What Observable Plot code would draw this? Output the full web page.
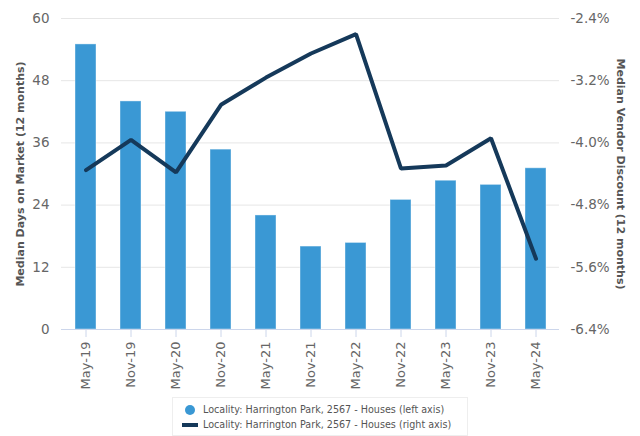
<!DOCTYPE html>
<html><head><meta charset="utf-8">
<script src="https://cdn.jsdelivr.net/npm/d3@7"></script>
<script src="https://cdn.jsdelivr.net/npm/@observablehq/plot@0.6"></script>
<style>
body{margin:0;background:#fff;font-family:"DejaVu Sans",sans-serif;}
#chart{width:640px;height:390px;}
.legend{position:absolute;left:172px;top:397px;width:296px;height:39px;border:1px solid #eeeeee;box-sizing:border-box;font-family:"DejaVu Sans",sans-serif;font-size:9.6px;color:#555;padding:4px 0 0 9px;white-space:nowrap;}
.legend div{height:15px;line-height:15px;display:flex;align-items:center;}
.legend svg{margin-right:5px;flex:none;}
</style></head><body>
<div id="chart"></div>
<div class="legend" id="legend"></div>
<script>
const periods = ["May-19","Nov-19","May-20","Nov-20","May-21","Nov-21","May-22","Nov-22","May-23","Nov-23","May-24"];
const daysOnMarket = [55, 44, 42, 34.7, 22, 16, 16.7, 25, 28.7, 27.9, 31.1];
const vendorDiscount = [-4.35, -3.96, -4.38, -3.51, -3.16, -2.85, -2.60, -4.33, -4.29, -3.94, -5.49];
const leftTicks = [0, 12, 24, 36, 48, 60];
const rightTicks = [-6.4, -5.6, -4.8, -4.0, -3.2, -2.4];
const seriesName = "Locality: Harrington Park, 2567 - Houses";
const leftTitle = "Median Days on Market (12 months)";
const rightTitle = "Median Vendor Discount (12 months)";

const barColor = "#3a98d4";
const lineColor = "#15395a";

const toLeft = d3.scaleLinear([-6.4, -2.4], [0, 60]);
const bars = periods.map((p, i) => ({period: p, value: daysOnMarket[i]}));
const line = periods.map((p, i) => ({period: p, value: toLeft(vendorDiscount[i])}));

const chart = Plot.plot({
  width: 640,
  height: 390,
  marginLeft: 61,
  marginRight: 81,
  marginTop: 18,
  marginBottom: 61,
  style: {fontFamily: "DejaVu Sans, sans-serif", color: "#666", background: "#fff"},
  x: {type: "band", domain: periods, paddingInner: 0.54, paddingOuter: 0.27, label: null},
  y: {domain: [0, 60], label: null},
  marks: [
    Plot.gridY(leftTicks, {stroke: "#e6e6e6", strokeOpacity: 1}),
    Plot.barY(bars, {x: "period", y: "value", fill: barColor, stroke: "#ffffff", strokeOpacity: 0.4, strokeWidth: 1}),
    Plot.ruleY([0], {stroke: "#ccd6eb", strokeWidth: 1}),
    Plot.line(line, {x: "period", y: "value", stroke: lineColor, strokeWidth: 4, strokeLinejoin: "miter", strokeLinecap: "round"}),
    Plot.axisY(leftTicks, {anchor: "left", tickSize: 0, tickPadding: 12, fontSize: 13.5, fill: "#666", label: null, tickFormat: d => String(d)}),
    Plot.axisY(rightTicks.map(v => toLeft(v)), {anchor: "right", tickSize: 0, tickPadding: 11, fontSize: 13.5, fill: "#666", label: null,
      tickFormat: d => d3.format(".1f")(toLeft.invert(d)).replace("\u2212", "-") + "%"}),
    Plot.axisX({tickRotate: -90, tickSize: 8, tickPadding: 4, fontSize: 13, stroke: "#ccd6eb", fill: "#666", label: null}),
    Plot.text([leftTitle], {frameAnchor: "left", textAnchor: "middle", dx: -41, rotate: -90, fontWeight: "bold", fontSize: 11, fill: "#555"}),
    Plot.text([rightTitle], {frameAnchor: "right", textAnchor: "middle", dx: 61, rotate: 90, fontWeight: "bold", fontSize: 11, fill: "#555"})
  ]
});
document.getElementById("chart").appendChild(chart);

const legend = document.getElementById("legend");
legend.innerHTML =
  `<div><svg width="16" height="12"><circle cx="8" cy="6" r="5" fill="${barColor}"/></svg>${seriesName} (left axis)</div>` +
  `<div><svg width="16" height="12"><rect x="0" y="4" width="16" height="4" fill="${lineColor}"/></svg>${seriesName} (right axis)</div>`;
</script>
</body></html>
